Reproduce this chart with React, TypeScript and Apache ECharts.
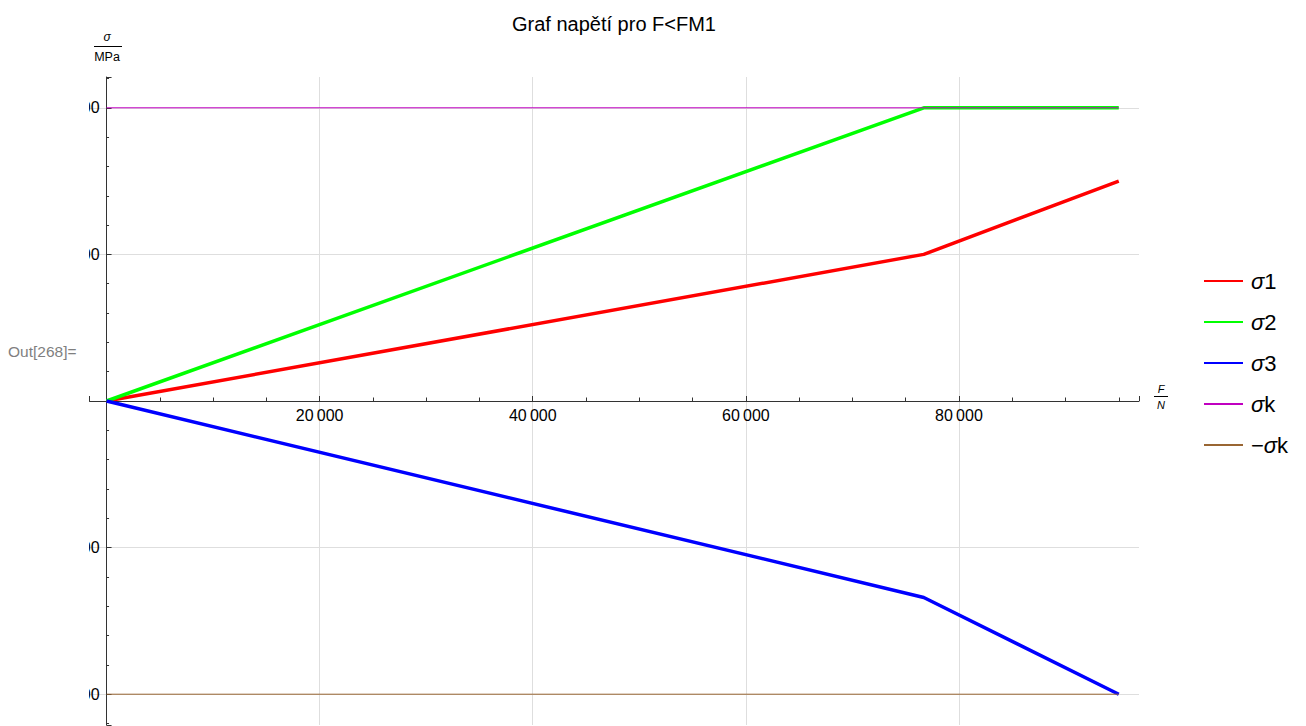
import React, { useEffect, useRef } from "react";
import * as echarts from "echarts";

// ---- data ----
const forces = [0, 76700, 95000];
const sigma1 = [0, 100, 150];
const sigma2 = [0, 200, 200];
const sigma3 = [0, -134, -200];
const limitForces = [0, 95000];
const sigmaK = [200, 200];
const minusSigmaK = [-200, -200];

const seriesNames = ["σ1", "σ2", "σ3", "σk", "−σk"];
const seriesColors = ["#ff0000", "#00ff00", "#0000ff", "#c000c0", "#996633"];
const titleText = "Graf napětí pro F<FM1";
const outLabel = "Out[268]=";

const xMin = -1600;
const xMax = 96900;
const yMin = -221;
const yMax = 221;

const zip = (xs: number[], ys: number[]) => xs.map((x, i) => [x, ys[i]]);

const FONT = "'Liberation Sans', Arial, sans-serif";

export default function App() {
  const ref = useRef<HTMLDivElement>(null);

  useEffect(() => {
    if (!ref.current) return;
    const chart = echarts.init(ref.current, undefined, { renderer: "svg" });
    const g = "#dedede";
    const t = "rgba(0,0,0,0)";
    const thick = 3.5;
    const thin = 1;
    const values = [sigma1, sigma2, sigma3];
    const series: any[] = values.map((v, i) => ({
      name: seriesNames[i],
      type: "line",
      data: zip(forces, v),
      symbol: "none",
      z: 2,
      lineStyle: { width: thick, color: seriesColors[i] },
      itemStyle: { color: seriesColors[i] },
    }));
    [sigmaK, minusSigmaK].forEach((v, j) => {
      const i = 3 + j;
      series.push({
        name: seriesNames[i],
        type: "line",
        data: zip(limitForces, v),
        symbol: "none",
        z: 3,
        lineStyle: { width: thin, color: seriesColors[i] },
        itemStyle: { color: seriesColors[i] },
      });
    });

    const gridLeft = 89.5;
    const gridTop = 77;
    const gridW = 1049.5;
    const gridH = 648;
    // offsets that bring the axes onto the zero lines of the other axis
    const xZeroOffset = -(gridH * (yMax / (yMax - yMin)));
    const yZeroOffset = -(gridW * ((0 - xMin) / (xMax - xMin)));

    chart.setOption({
      animation: false,
      textStyle: { fontFamily: FONT },
      title: {
        text: titleText,
        left: 507,
        top: 9,
        textStyle: { fontSize: 20, fontWeight: "normal", color: "#000", fontFamily: FONT },
      },
      grid: {
        left: gridLeft,
        top: gridTop,
        width: gridW,
        height: gridH,
        containLabel: false,
        outerBoundsMode: "none",
      },
      xAxis: {
        type: "value",
        min: xMin,
        max: xMax,
        splitNumber: 5,
        position: "bottom",
        offset: xZeroOffset,
        axisLine: { onZero: false, lineStyle: { color: "#333", width: 1 } },
        axisTick: { inside: true, length: 5, lineStyle: { color: "#333" } },
        minorTick: { show: true, splitNumber: 4, length: 3.5, lineStyle: { color: "#333" } },
        axisLabel: {
          margin: 6,
          fontSize: 16,
          color: "#000",
          fontFamily: FONT,
          formatter: (v: number) =>
            v === 0 || v % 20000 !== 0 ? "" : String(v / 1000) + "\u2009000",
        },
        splitLine: { show: true, lineStyle: { color: [t, t, g, g, g, g, t], width: 1 } },
      },
      yAxis: {
        type: "value",
        min: yMin,
        max: yMax,
        splitNumber: 4,
        position: "left",
        offset: yZeroOffset,
        axisLine: { onZero: false, lineStyle: { color: "#333", width: 1 } },
        axisTick: { inside: true, length: 5, lineStyle: { color: "#333" } },
        minorTick: { show: true, splitNumber: 5, length: 2.5, lineStyle: { color: "#333" } },
        axisLabel: {
          margin: 7,
          fontSize: 16,
          color: "#000",
          fontFamily: FONT,
          formatter: (v: number) =>
            v === 0 || v % 100 !== 0 ? "" : (v < 0 ? "−" : "") + Math.abs(v),
        },
        splitLine: { show: true, lineStyle: { color: [t, g, g, g, g, g, t], width: 1 } },
      },
      legend: {
        orient: "vertical",
        left: 1198,
        top: 265,
        itemWidth: 39,
        itemHeight: 14,
        itemGap: 19,
        itemStyle: { color: "rgba(0,0,0,0)", borderWidth: 0 },
        data: seriesNames,
        formatter: (name: string) => {
          const neg = name.startsWith("−");
          const rest = name.replace("−", "").replace("σ", "");
          return (neg ? "{n|−}" : "") + "{i|σ}{n|" + rest + "}";
        },
        textStyle: {
          fontSize: 22,
          color: "#000",
          fontFamily: FONT,
          padding: [0, 0, 0, 3],
          rich: {
            i: { fontSize: 22, fontStyle: "italic", color: "#000", fontFamily: FONT },
            n: { fontSize: 22, color: "#000", fontFamily: FONT },
          },
        },
      },
      graphic: [
        {
          type: "rect",
          z: 100,
          shape: { x: 0, y: 60, width: 89, height: 666 },
          style: { fill: "#fff" },
        },
        {
          type: "text",
          z: 101,
          x: 8,
          y: 351,
          style: { text: outLabel, fill: "#7f7f7f", font: "15.5px " + FONT, textVerticalAlign: "middle" },
        },
        {
          type: "text",
          z: 101,
          x: 107,
          y: 37,
          style: { text: "σ", fill: "#000", font: "italic 12px " + FONT, textAlign: "center", textVerticalAlign: "middle" },
        },
        {
          type: "line",
          z: 101,
          shape: { x1: 94, y1: 46.5, x2: 122, y2: 46.5 },
          style: { stroke: "#000", lineWidth: 1 },
        },
        {
          type: "text",
          z: 101,
          x: 107,
          y: 57,
          style: { text: "MPa", fill: "#000", font: "12.5px " + FONT, textAlign: "center", textVerticalAlign: "middle" },
        },
        {
          type: "text",
          z: 101,
          x: 1161,
          y: 389,
          style: { text: "F", fill: "#000", font: "italic 11px " + FONT, textAlign: "center", textVerticalAlign: "middle" },
        },
        {
          type: "line",
          z: 101,
          shape: { x1: 1154, y1: 396.5, x2: 1168, y2: 396.5 },
          style: { stroke: "#000", lineWidth: 1 },
        },
        {
          type: "text",
          z: 101,
          x: 1161,
          y: 405,
          style: { text: "N", fill: "#000", font: "italic 11px " + FONT, textAlign: "center", textVerticalAlign: "middle" },
        },
      ],
      series,
    });
    return () => chart.dispose();
  }, []);

  return (
    <div
      ref={ref}
      style={{ position: "fixed", left: 0, top: 0, width: 1306, height: 726, background: "#fff" }}
    />
  );
}
